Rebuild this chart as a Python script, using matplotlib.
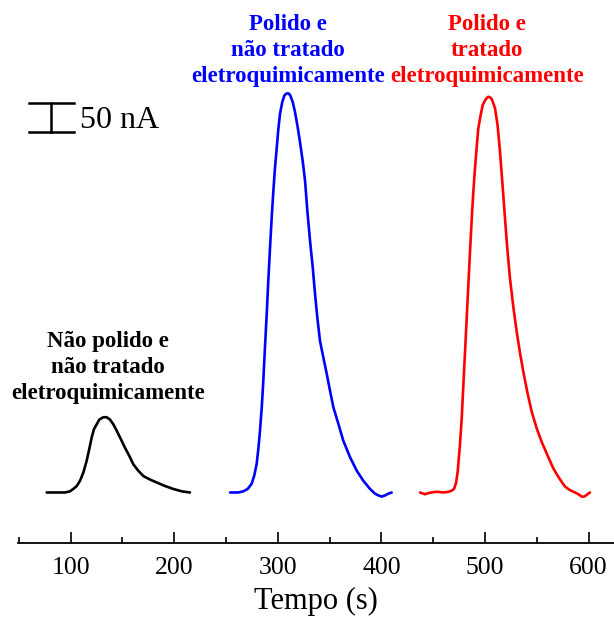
import matplotlib
matplotlib.use("Agg")
import matplotlib.pyplot as plt
from matplotlib.ticker import MultipleLocator

# Amperometric responses (time in s, current in nA, baseline-corrected)
t_nao_polido = [77.0, 86.7, 94.7, 99.5, 102.7, 106.0, 109.2, 112.4, 115.6, 118.1, 120.5,
                122.7, 125.3, 127.8, 131.7, 134.9, 138.1, 141.3, 144.6, 148.5, 152.6,
                156.8, 160.6, 165.4, 170.3, 176.7, 183.2, 191.2, 199.2, 207.3, 215.3]
i_nao_polido = [0, 0, 0, 2, 6, 11, 20, 34, 54, 74, 94,
                108, 116, 124, 128, 128, 124, 116, 105, 91, 76,
                62, 48, 37, 28, 22, 17, 11, 6, 2, 0]

t_polido = [254.0, 262.0, 266.8, 271.0, 274.9, 277.4, 279.7, 281.3, 282.9, 284.6, 286.1,
            287.7, 289.4, 290.9, 292.6, 294.2, 295.8, 297.4, 299.1, 300.6, 302.2, 304.4,
            306.4, 308.0, 309.7, 311.0, 312.2, 314.5, 316.7, 319.3, 321.5, 324.1, 326.4,
            328.6, 331.2, 333.8, 336.0, 338.2, 340.8, 344.0, 347.3, 350.5, 353.7, 358.5,
            363.3, 369.8, 376.3, 382.6, 389.1, 393.9, 397.1, 400.4, 403.6, 406.8, 410.0]
i_polido = [0, 0, 2, 6, 15, 29, 49, 74, 105, 145, 190,
            247, 304, 360, 417, 468, 513, 553, 587, 618, 644, 664,
            675, 678, 679, 678, 675, 664, 647, 621, 596, 564, 530,
            479, 428, 383, 338, 298, 258, 230, 202, 173, 145, 117,
            88, 60, 37, 20, 6, -2, -5, -7, -5, -2, 0]

t_tratado = [437.4, 442.2, 445.4, 448.6, 451.8, 455.0, 459.8, 464.6, 467.9, 470.2, 472.1,
             473.7, 475.9, 477.6, 479.2, 480.8, 482.4, 484.0, 485.6, 487.3, 488.8, 490.4,
             492.1, 493.6, 495.9, 497.9, 500.1, 501.8, 503.3, 505.0, 506.6, 509.7, 512.2,
             514.6, 517.0, 519.4, 521.6, 524.2, 527.4, 530.7, 533.9, 537.1, 540.9, 545.2,
             550.0, 554.8, 560.2, 566.0, 571.8, 577.3, 582.1, 587.0, 590.2, 593.4, 595.9,
             598.3, 601.4]
i_tratado = [0, -3, -1, 0, 1, 1, 0, 1, 3, 6, 16,
             35, 81, 126, 183, 239, 296, 353, 409, 466, 511, 551,
             588, 619, 642, 659, 667, 671, 673, 672, 669, 654, 625,
             579, 523, 466, 415, 364, 316, 273, 237, 205, 171, 137,
             109, 86, 64, 41, 24, 10, 4, 0, -3, -7, -7,
             -4, 0]

labels = ["Não polido e\nnão tratado\neletroquimicamente",
          "Polido e\nnão tratado\neletroquimicamente",
          "Polido e\ntratado\neletroquimicamente"]
colors = ["black", "#0000ff", "#ff0000"]

scale_bar_nA = 50
scale_bar_label = "50 nA"
x_ticks = [100, 200, 300, 400, 500, 600]

plt.rcParams["font.family"] = ["Liberation Serif", "DejaVu Serif"]

fig = plt.figure(figsize=(6.14, 6.19), dpi=100)
ax = fig.add_axes([0.0293, 0.1228, 0.9707, 0.8772])

series = [(t_nao_polido, i_nao_polido), (t_polido, i_polido), (t_tratado, i_tratado)]
for (t, i), c in zip(series, colors):
    ax.plot(t, i, color=c, lw=1.9, solid_joinstyle="round", solid_capstyle="round")

ax.set_xlim(49.3, 624.6)
ax.set_ylim(-85.9, 837.6)

for s in ["top", "right", "left"]:
    ax.spines[s].set_visible(False)
ax.spines["bottom"].set_linewidth(1.3)
ax.set_yticks([])
ax.set_xticks(x_ticks)
ax.xaxis.set_minor_locator(MultipleLocator(50))
ax.tick_params(axis="x", which="major", direction="in", length=8, width=1.2,
               labelsize=18.5, pad=10)
ax.tick_params(axis="x", which="minor", direction="in", length=4.5, width=1.2)
ax.set_xlabel("Tempo (s)", fontsize=22, labelpad=6)

# Peak annotations
label_pos = [(136, 213), (310, 752), (502, 752)]
for txt, (x, y), c in zip(labels, label_pos, colors):
    ax.text(x, y, txt, color=c, fontsize=16.5, fontweight="bold",
            ha="center", va="center", linespacing=1.3)

# Vertical scale bar
bar_x0, bar_x1 = 60, 103
bar_xc = (bar_x0 + bar_x1) / 2
bar_y0 = 613
bar_y1 = bar_y0 + scale_bar_nA
ax.plot([bar_xc, bar_xc], [bar_y0, bar_y1], color="black", lw=1.8, clip_on=False)
ax.plot([bar_x0, bar_x1], [bar_y0, bar_y0], color="black", lw=1.8, clip_on=False)
ax.plot([bar_x0, bar_x1], [bar_y1, bar_y1], color="black", lw=1.8, clip_on=False)
ax.text(bar_x1 + 6, (bar_y0 + bar_y1) / 2 - 6, scale_bar_label, fontsize=23,
        ha="left", va="center")

fig.savefig("out.png", dpi=100)
